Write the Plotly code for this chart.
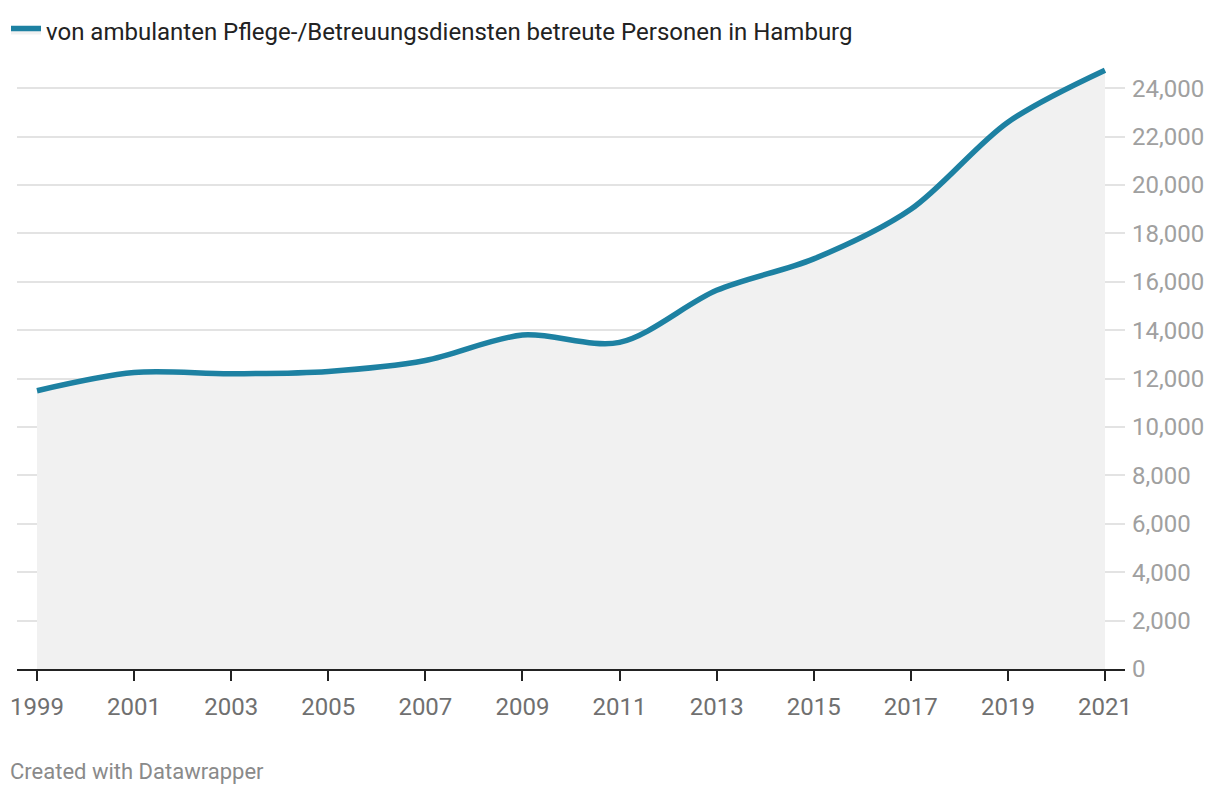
import plotly.graph_objects as go

years = [1999, 2001, 2003, 2005, 2007, 2009, 2011, 2013, 2015, 2017, 2019, 2021]
persons = [11500, 12250, 12200, 12300, 12750, 13800, 13500, 15650, 16950, 19000, 22600, 24750]
series_name = "von ambulanten Pflege-/Betreuungsdiensten betreute Personen in Hamburg"
y_ticks = [0, 2000, 4000, 6000, 8000, 10000, 12000, 14000, 16000, 18000, 20000, 22000, 24000]

LINE = "#1d81a2"
W, H = 1220, 796
ml, mr, mt, mb = 9, 103, 44, 135
PW, PH = W - ml - mr, H - mt - mb

fig = go.Figure()
fig.add_trace(go.Scatter(
    x=years, y=persons, name=series_name, mode="lines",
    line=dict(color=LINE, width=5.5, shape="spline", smoothing=0.9),
    fill="tozeroy", fillcolor="#f1f1f1", hoverinfo="skip",
))

fig.update_layout(
    width=W, height=H,
    margin=dict(l=ml, r=mr, t=mt, b=mb, autoexpand=False),
    paper_bgcolor="white", plot_bgcolor="white",
    font=dict(family="Roboto", color="#333"),
    showlegend=True,
    legend=dict(orientation="h", x=-11/PW, xanchor="left", y=1 + 21 / PH, yanchor="middle",
                font=dict(size=24, color="#222"), bgcolor="rgba(0,0,0,0)",
                itemwidth=30, tracegroupgap=0),
    xaxis=dict(range=[1998.588, 2021.412], tickvals=years, ticktext=[str(y) for y in years],
               showgrid=False, zeroline=False, showline=True, linecolor="#222", linewidth=2,
               ticks="outside", ticklen=10, tickwidth=1.5, tickcolor="#222",
               tickfont=dict(size=24, color="#707070"), ticklabelstandoff=5,
               fixedrange=True, automargin=False),
    yaxis=dict(range=[0, 25500], side="right", tickvals=y_ticks, tickformat=",d",
               showgrid=True, gridcolor="#e3e3e3", gridwidth=1.5, zeroline=False,
               showline=False, ticks="", tickfont=dict(size=24, color="#a0a0a0"),
               ticklabelstandoff=6, fixedrange=True, automargin=False),
)

fig.add_annotation(text="Created with Datawrapper", xref="paper", yref="paper",
                   x=-9/PW, y=-(772-669)/PH, xanchor="left", yanchor="middle",
                   showarrow=False, font=dict(size=22, color="#8a8a8a"))

fig.write_html("out.html")
